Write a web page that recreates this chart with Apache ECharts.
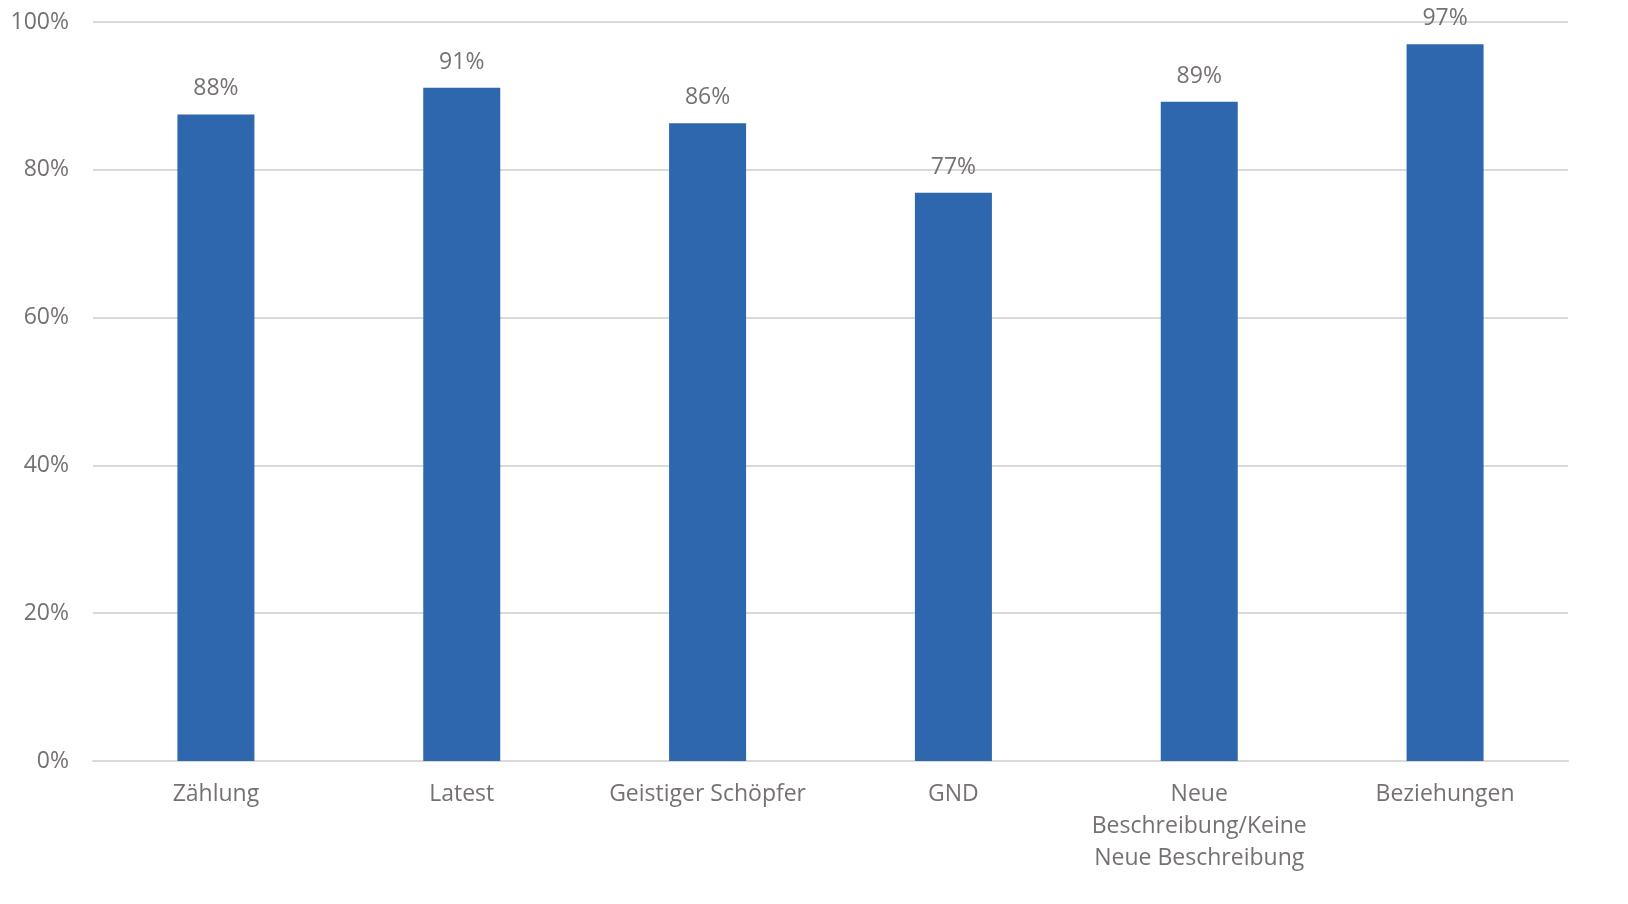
<!DOCTYPE html>
<html><head><meta charset="utf-8">
<script src="https://cdn.jsdelivr.net/npm/echarts@6/dist/echarts.min.js"></script>
<style>html,body{margin:0;padding:0;background:#fff}#c{width:1628px;height:904px}</style>
</head><body><div id="c"></div>
<script>
const categories = ["Zählung", "Latest", "Geistiger Schöpfer", "GND", "Neue\nBeschreibung/Keine\nNeue Beschreibung", "Beziehungen"];
const values = [0.875, 0.911, 0.863, 0.769, 0.892, 0.970];
const yTicks = [0, 0.2, 0.4, 0.6, 0.8, 1.0];

const txt = '#767171';
const font = '"Open Sans", "Noto Sans", sans-serif';
const chart = echarts.init(document.getElementById('c'));
chart.setOption({
  animation: false,
  grid: { left: 93, right: 60, top: 22, bottom: 143, containLabel: false },
  xAxis: {
    type: 'category', data: categories,
    axisLine: { show: true, lineStyle: { color: '#D9D9D9', width: 2 } },
    axisTick: { show: false },
    axisLabel: { color: txt, fontSize: 23, fontFamily: font, lineHeight: 32, margin: 17, interval: 0 }
  },
  yAxis: {
    type: 'value', min: yTicks[0], max: yTicks[yTicks.length - 1], interval: 0.2,
    axisLine: { show: false }, axisTick: { show: false },
    splitLine: { lineStyle: { color: '#D9D9D9', width: 2 } },
    axisLabel: { color: txt, fontSize: 23, fontFamily: font, margin: 24,
      formatter: v => Math.round(v * 100) + '%' }
  },
  series: [{
    type: 'bar', data: values, barWidth: 77,
    itemStyle: { color: '#2E67AD' },
    label: { show: true, position: 'top', distance: 14, color: txt, fontSize: 23, fontFamily: font,
      formatter: p => Math.round(p.value * 100) + '%' }
  }]
});
</script></body></html>
